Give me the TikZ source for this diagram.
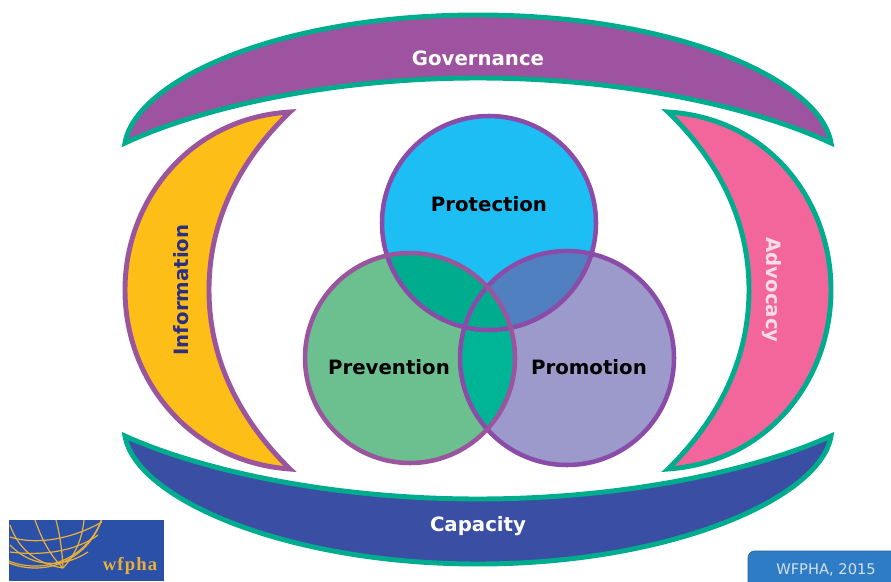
\documentclass[tikz,border=0pt]{standalone}
\usepackage{fontspec}
\setmainfont{DejaVu Sans}
\newfontfamily\logofont[LetterSpace=6]{Liberation Serif}
\definecolor{teal1}{HTML}{00AC8E}
\definecolor{purp}{HTML}{9B559F}
\definecolor{govc}{HTML}{9D539F}
\definecolor{capc}{HTML}{3A4FA3}
\definecolor{infoc}{HTML}{FDBE17}
\definecolor{advc}{HTML}{F2669B}
\definecolor{protc}{HTML}{1CBEF3}
\definecolor{prevc}{HTML}{6CC08F}
\definecolor{promc}{HTML}{9C9ACB}
\definecolor{pp}{HTML}{00AC8E}
\definecolor{pq}{HTML}{5080C0}
\definecolor{qq}{HTML}{00B496}
\definecolor{logoc}{HTML}{2B50A8}
\definecolor{gold}{HTML}{E8B03A}
\definecolor{badgec}{HTML}{2E7CC4}
\definecolor{badget}{HTML}{D5E0EE}
\definecolor{navy}{HTML}{2E2F80}
\definecolor{paleb}{HTML}{F9DDE8}
\tikzset{
  x=0.75pt,y=-0.75pt,
  band/.style={draw=teal1,line width=3.7pt,miter limit=12,line join=miter},
  moon/.style={line width=3.7pt,miter limit=12,line join=miter},
  lab/.style={font=\bfseries\fontsize{14.8}{16}\selectfont,text=white,inner sep=0pt},
  dark/.style={font=\bfseries\fontsize{14.8}{16}\selectfont,text=black,inner sep=0pt},
  globe/.style={draw=gold,line width=0.9pt},
}
\begin{document}
\begin{tikzpicture}
\useasboundingbox (0,0) rectangle (891,581);
% bands
\draw[band,fill=govc] (125,143) .. controls (135,82) and (275,15) .. (478,15)
  .. controls (681,15) and (821,82) .. (831,143)
  .. controls (756,108) and (626,78) .. (478,78)
  .. controls (330,78) and (200,108) .. cycle;
\draw[band,fill=capc] (125,436) .. controls (135,498) and (285,564) .. (478,564)
  .. controls (671,564) and (821,498) .. (831,436)
  .. controls (756,470) and (626,499) .. (478,499)
  .. controls (330,499) and (200,470) .. cycle;
% crescents
\draw[moon,draw=purp,fill=infoc] (290,112) .. controls (190,118) and (125,200) .. (125,290)
  .. controls (125,380) and (190,462) .. (290,469)
  .. controls (240,420) and (209,360) .. (209,290)
  .. controls (209,220) and (240,160) .. cycle;
\draw[moon,draw=teal1,fill=advc] (668,112) .. controls (768,118) and (831,200) .. (831,290)
  .. controls (831,380) and (768,462) .. (668,469)
  .. controls (718,420) and (749,360) .. (749,290)
  .. controls (749,220) and (718,160) .. cycle;
% circles
\coordinate (cp) at (489,223);
\coordinate (cv) at (410,358);
\coordinate (cm) at (567,358);
\fill[protc] (cp) circle[radius=107];
\fill[promc] (cm) circle[radius=107];
\fill[prevc] (cv) circle[radius=105];
\begin{scope}
  \clip (cp) circle[radius=107];
  \fill[pp] (cv) circle[radius=105];
  \fill[pq] (cm) circle[radius=107];
  \clip (cv) circle[radius=105];
  \fill[pp] (cm) circle[radius=107];
\end{scope}
\begin{scope}
  \clip (cv) circle[radius=105];
  \fill[qq] (cm) circle[radius=107];
  \clip (cp) circle[radius=107];
  \fill[pp] (cm) circle[radius=107];
\end{scope}
\draw[purp!90!blue,line width=3.4pt] (cp) circle[radius=107];
\draw[purp!90!blue,line width=3.4pt] (cm) circle[radius=107];
\draw[purp,line width=3.4pt] (cv) circle[radius=105];
% labels
\node[lab] (gov) at (478,58) {Governance};
\node[lab] (cap) at (478,526) {Capacity};
\node[lab,rotate=90,text=navy] (inf) at (181,290) {Information};
\node[lab,rotate=-90,text=paleb] (adv) at (772,290) {Advocacy};
\node[dark] (pro) at (489,204) {Protection};
\node[dark] (pre) at (389,367) {Prevention};
\node[dark] (pmo) at (589,367) {Promotion};
% logo
\fill[logoc] (9,520) rectangle (164,581);
\begin{scope}
  \clip (9,520) rectangle (164,581);
  \draw[globe] (35,498) circle[radius=70];
  \draw[globe] (35,498) ellipse[x radius=70,y radius=68];
  \draw[globe] (10,525) .. controls (17,545) and (32,563) .. (63,568);
  \draw[globe] (35,520) .. controls (42,540) and (50,555) .. (63,568);
  \draw[globe] (56,520) .. controls (60,535) and (62,550) .. (63,568);
  \draw[globe] (84,520) .. controls (82,540) and (75,555) .. (63,568);
  \draw[globe] (10,537) .. controls (35,545) and (70,540) .. (102,522);
  \draw[globe] (10,552) .. controls (40,556) and (75,552) .. (98,535);
  \draw[globe] (10,545) .. controls (30,566) and (60,570) .. (88,552);
\end{scope}
\node[font=\logofont\bfseries\fontsize{14}{16}\selectfont,text=gold,inner sep=0pt] (wf) at (130,566) {wfpha};
% badge
\path[fill=badgec,draw=badgec!80!black,line width=0.5pt,rounded corners=5pt] (748,590) -- (748,551) -- (900,551) -- (900,590) -- cycle;
\node[font=\fontsize{11}{12}\selectfont,text=badget,inner sep=0pt] (bad) at (826,570) {WFPHA, 2015};
\end{tikzpicture}
\end{document}
